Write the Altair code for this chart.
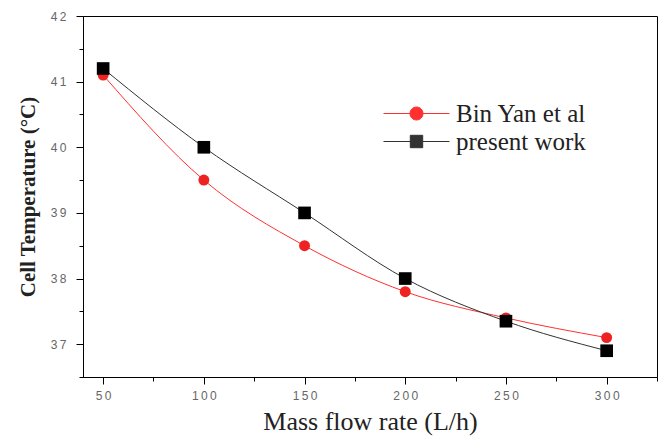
import altair as alt
import pandas as pd

flow = [50, 100, 150, 200, 250, 300]
bin_yan = [41.1, 39.5, 38.5, 37.8, 37.4, 37.1]
present = [41.2, 40.0, 39.0, 38.0, 37.35, 36.9]
series_names = ["Bin Yan et al", "present work"]
series_colors = ["#ee2222", "#000000"]
line_colors = ["#ff3030", "#333333"]
x_ticks = [50, 75, 100, 125, 150, 175, 200, 225, 250, 275, 300, 325]
y_ticks = [36.5, 37, 37.5, 38, 38.5, 39, 39.5, 40, 40.5, 41, 41.5, 42]

rows = []
for f, v in zip(flow, bin_yan):
    rows.append({"flow": f, "temp": v, "series": series_names[0]})
for f, v in zip(flow, present):
    rows.append({"flow": f, "temp": v, "series": series_names[1]})
df = pd.DataFrame(rows)

x_enc = alt.X(
    "flow:Q",
    scale=alt.Scale(domain=[40, 325], nice=False, zero=False),
    axis=alt.Axis(
        title="Mass flow rate (L/h)",
        values=x_ticks,
        format="d",
        labelExpr="datum.value % 50 == 0 ? join(split(datum.label, ''), '\u2009') : ''",
        tickSize={"condition": {"test": "datum.value % 50 != 0", "value": 4}, "value": 7},
        labelPadding=6,
        titlePadding=7,
        titleFont="Liberation Serif",
        titleFontSize=26,
        titleFontWeight="normal",
        titleColor="#222222",
        grid=False,
    ),
)
y_enc = alt.Y(
    "temp:Q",
    scale=alt.Scale(domain=[36.5, 42], nice=False, zero=False),
    axis=alt.Axis(
        title="Cell Temperature  (°C)",
        values=y_ticks,
        format=".0f",
        labelExpr="datum.value % 1 == 0 ? join(split(datum.label, ''), '\u2009') : ''",
        tickSize={"condition": {"test": "datum.value % 1 != 0", "value": 4}, "value": 7},
        labelPadding=10,
        titlePadding=12,
        titleFont="Liberation Serif",
        titleFontSize=21,
        titleFontWeight="bold",
        titleColor="#222222",
        grid=False,
    ),
)

base = alt.Chart(df)

red_line = base.transform_filter(alt.datum.series == series_names[0]).mark_line(
    color=line_colors[0], strokeWidth=1, interpolate="monotone"
).encode(x=x_enc, y=y_enc)
red_pts = base.transform_filter(alt.datum.series == series_names[0]).mark_point(
    shape="circle", filled=True, color=series_colors[0], size=120, opacity=1
).encode(x=x_enc, y=y_enc)
blk_line = base.transform_filter(alt.datum.series == series_names[1]).mark_line(
    color=line_colors[1], strokeWidth=1, interpolate="monotone"
).encode(x=x_enc, y=y_enc)
blk_pts = base.transform_filter(alt.datum.series == series_names[1]).mark_point(
    shape="square", filled=True, color=series_colors[1], size=160, opacity=1
).encode(x=x_enc, y=y_enc)

circle_path = "M-3.3,0H3.3M0.65,0A0.65,0.65,0,1,1,-0.65,0A0.65,0.65,0,1,1,0.65,0Z"
square_path = "M-3.3,0H3.3M-0.62,-0.62H0.62V0.62H-0.62Z"

legend = alt.Legend(
    title=None,
    orient="none",
    legendX=321,
    legendY=85,
    padding=0,
    symbolSize=400,
    symbolStrokeWidth=1,
    labelOffset=27,
    labelFont="Liberation Serif",
    labelFontSize=25,
    labelColor="#222222",
    rowPadding=2,
    labelLimit=300,
)

legend_layer = base.transform_filter("false").mark_point(filled=True, opacity=1).encode(
    x=x_enc,
    y=y_enc,
    fill=alt.Fill("series:N", scale=alt.Scale(domain=series_names, range=line_colors), legend=legend),
    stroke=alt.Stroke("series:N", scale=alt.Scale(domain=series_names, range=line_colors), legend=legend),
    shape=alt.Shape("series:N", scale=alt.Scale(domain=series_names, range=[circle_path, square_path]), legend=legend),
)

chart = alt.layer(red_line, blk_line, red_pts, blk_pts, legend_layer).properties(
    width=574,
    height=361,
    autosize=alt.AutoSizeParams(type="none"),
    padding={"left": 83, "top": 16, "right": 5, "bottom": 64},
    background="white",
).configure_view(
    stroke="#000000", strokeWidth=1
).configure_axis(
    domainColor="#000000",
    domainWidth=1,
    tickColor="#000000",
    tickWidth=1,
    labelFont="Liberation Sans",
    labelFontSize=12,
    labelColor="#666666",
    labelFlush=False,
    labelOverlap=False,
)

chart.save("out.html", embed_options={"renderer": "svg", "actions": False})
